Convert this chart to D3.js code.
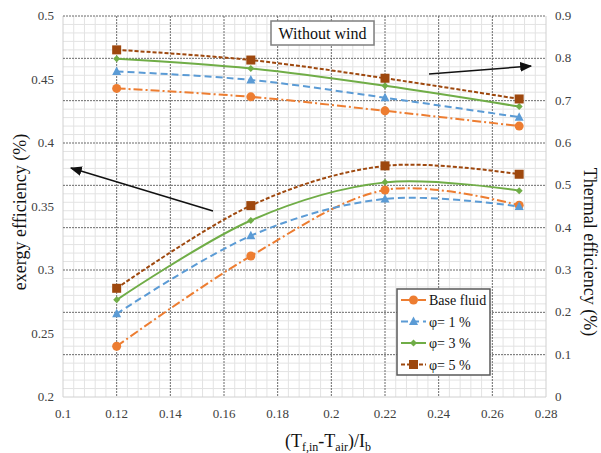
<!DOCTYPE html>
<html lang="en">
<head>
<meta charset="UTF-8">
<title>Exergy and thermal efficiency</title>
<script src="https://d3js.org/d3.v7.min.js"></script>
<style>
  body { margin: 0; background: #fff; }
  svg text { font-family: "Liberation Serif", "Times New Roman", Times, serif; }
  .tick-label { font-size: 13px; fill: #404040; }
</style>
</head>
<body>
<svg id="chart" width="601" height="453"></svg>
<script>
// x values, (Tf,in - Tair)/Ib
const xVals = [0.12, 0.17, 0.22, 0.27];

// thermal efficiency (right axis)
const thermalBase = [0.729, 0.709, 0.676, 0.640];
const thermal1 = [0.769, 0.749, 0.707, 0.661];
const thermal3 = [0.799, 0.776, 0.735, 0.686];
const thermal5 = [0.820, 0.796, 0.753, 0.704];

// exergy efficiency (left axis)
const exergyBase = [0.240, 0.311, 0.363, 0.351];
const exergy1 = [0.2655, 0.327, 0.356, 0.350];
const exergy3 = [0.2765, 0.339, 0.369, 0.3625];
const exergy5 = [0.2856, 0.3507, 0.382, 0.3754];

const seriesNames = ["Base fluid", "φ= 1 %", "φ= 3 %", "φ= 5 %"];
const xTicks = [0.1, 0.12, 0.14, 0.16, 0.18, 0.2, 0.22, 0.24, 0.26, 0.28];
const leftTicks = [0.2, 0.25, 0.3, 0.35, 0.4, 0.45, 0.5];
const rightTicks = [0, 0.1, 0.2, 0.3, 0.4, 0.5, 0.6, 0.7, 0.8, 0.9];

const styles = [
  { color: "#ED7D31", dash: "9,3,2,3", marker: "circle" },
  { color: "#5B9BD5", dash: "7,4", marker: "triangle" },
  { color: "#70AD47", dash: null, marker: "diamond" },
  { color: "#9E480E", dash: "4,2", marker: "square" }
];

const svg = d3.select("#chart");
const pL = 63, pR = 546, pT = 16, pB = 397;

const x = d3.scaleLinear().domain([0.1, 0.28]).range([pL, pR]);
const yL = d3.scaleLinear().domain([0.2, 0.5]).range([pB, pT]);
const yR = d3.scaleLinear().domain([0, 0.9]).range([pB, pT]);

// minor grid
const grid = svg.append("g");
for (let i = 0; i < xTicks.length - 1; i++) {
  for (let k = 1; k < 5; k++) {
    const xv = x(xTicks[i] + k * 0.004);
    grid.append("line").attr("x1", xv).attr("x2", xv).attr("y1", pT).attr("y2", pB)
      .attr("stroke", "#e3e3e3").attr("stroke-width", 1);
  }
}
for (let i = 0; i < rightTicks.length - 1; i++) {
  for (let k = 1; k < 5; k++) {
    const yv = yR(rightTicks[i] + k * 0.02);
    grid.append("line").attr("x1", pL).attr("x2", pR).attr("y1", yv).attr("y2", yv)
      .attr("stroke", "#e3e3e3").attr("stroke-width", 1);
  }
}

// axis lines
grid.append("line").attr("x1", pL).attr("x2", pL).attr("y1", pT).attr("y2", pB).attr("stroke", "#d0d0d0");
grid.append("line").attr("x1", pR).attr("x2", pR).attr("y1", pT).attr("y2", pB).attr("stroke", "#d0d0d0");
grid.append("line").attr("x1", pL).attr("x2", pR).attr("y1", pB).attr("y2", pB).attr("stroke", "#d0d0d0");

// major grid
xTicks.slice(1, -1).forEach(t => {
  grid.append("line").attr("x1", x(t)).attr("x2", x(t)).attr("y1", pT).attr("y2", pB)
    .attr("stroke", "#6b6b6b").attr("stroke-width", 1).attr("stroke-dasharray", "2,1");
});
rightTicks.slice(1).forEach(t => {
  grid.append("line").attr("x1", pL).attr("x2", pR).attr("y1", yR(t)).attr("y2", yR(t))
    .attr("stroke", "#6b6b6b").attr("stroke-width", 1).attr("stroke-dasharray", "2,1");
});

// tick labels
xTicks.forEach(t => {
  svg.append("text").attr("class", "tick-label").attr("x", x(t)).attr("y", 418)
    .attr("text-anchor", "middle").text(+t.toFixed(2));
});
leftTicks.forEach(t => {
  svg.append("text").attr("class", "tick-label").attr("x", 54).attr("y", yL(t) + 4)
    .attr("text-anchor", "end").text(+t.toFixed(2));
});
rightTicks.forEach(t => {
  svg.append("text").attr("class", "tick-label").attr("x", 555).attr("y", yR(t) + 4)
    .attr("text-anchor", "start").text(+t.toFixed(1));
});

// axis titles
svg.append("text").attr("transform", "translate(26,212) rotate(-90)")
  .attr("text-anchor", "middle").attr("font-size", 18).attr("fill", "#111")
  .text("exergy efficiency (%)");
svg.append("text").attr("transform", "translate(584,252) rotate(90)")
  .attr("text-anchor", "middle").attr("font-size", 18).attr("fill", "#111")
  .text("Thermal efficiency (%)");
const xt = svg.append("text").attr("x", 328).attr("y", 447).attr("text-anchor", "middle")
  .attr("font-size", 18).attr("fill", "#111");
xt.append("tspan").text("(T");
xt.append("tspan").attr("font-size", 12).attr("dy", 4).text("f,in");
xt.append("tspan").attr("dy", -4).text("-T");
xt.append("tspan").attr("font-size", 12).attr("dy", 4).text("air");
xt.append("tspan").attr("dy", -4).text(")/I");
xt.append("tspan").attr("font-size", 12).attr("dy", 4).text("b");

// series
const line = d3.line().curve(d3.curveCatmullRom.alpha(0));

function drawMarker(g, type, cx, cy, color) {
  if (type === "circle") {
    g.append("circle").attr("cx", cx).attr("cy", cy).attr("r", 4.5).attr("fill", color);
  } else if (type === "triangle") {
    g.append("path").attr("d", `M${cx},${cy - 5}L${cx + 4.5},${cy + 3.5}L${cx - 4.5},${cy + 3.5}Z`).attr("fill", color);
  } else if (type === "diamond") {
    g.append("path").attr("d", `M${cx},${cy - 3.5}L${cx + 3.5},${cy}L${cx},${cy + 3.5}L${cx - 3.5},${cy}Z`).attr("fill", color);
  } else {
    g.append("rect").attr("x", cx - 4.5).attr("y", cy - 4.5).attr("width", 9).attr("height", 9).attr("fill", color);
  }
}

function drawSeries(vals, scale, st) {
  const pts = xVals.map((v, i) => [x(v), scale(vals[i])]);
  const g = svg.append("g");
  g.append("path").attr("d", line(pts)).attr("fill", "none").attr("stroke", st.color)
    .attr("stroke-width", 2).attr("stroke-dasharray", st.dash);
  pts.forEach(p => drawMarker(g, st.marker, p[0], p[1], st.color));
}

const thermal = [thermalBase, thermal1, thermal3, thermal5];
const exergy = [exergyBase, exergy1, exergy3, exergy5];
thermal.forEach((s, i) => drawSeries(s, yR, styles[i]));
exergy.forEach((s, i) => drawSeries(s, yL, styles[i]));

// arrows
const defs = svg.append("defs");
defs.append("marker").attr("id", "ah").attr("viewBox", "0 0 10 10").attr("refX", 9).attr("refY", 5)
  .attr("markerWidth", 8).attr("markerHeight", 8).attr("orient", "auto")
  .append("path").attr("d", "M0,1L10,5L0,9Z").attr("fill", "#111");
svg.append("line").attr("x1", 429).attr("y1", 74).attr("x2", 531).attr("y2", 66)
  .attr("stroke", "#111").attr("stroke-width", 1.5).attr("marker-end", "url(#ah)");
svg.append("line").attr("x1", 213).attr("y1", 211).attr("x2", 71).attr("y2", 168)
  .attr("stroke", "#111").attr("stroke-width", 1.5).attr("marker-end", "url(#ah)");

// "Without wind" box
svg.append("rect").attr("x", 271).attr("y", 21).attr("width", 103).attr("height", 24)
  .attr("fill", "#fff").attr("stroke", "#7f7f7f").attr("stroke-width", 1.5);
svg.append("text").attr("x", 322.5).attr("y", 39).attr("text-anchor", "middle")
  .attr("font-size", 16).attr("fill", "#111").text("Without wind");

// legend
const lg = svg.append("g");
lg.append("rect").attr("x", 397).attr("y", 289).attr("width", 93).attr("height", 86)
  .attr("fill", "#fff").attr("stroke", "#595959").attr("stroke-width", 1.5);
const rowY = [300, 321.5, 343, 364.5];
seriesNames.forEach((name, i) => {
  const st = styles[i];
  lg.append("line").attr("x1", 401).attr("x2", 426).attr("y1", rowY[i]).attr("y2", rowY[i])
    .attr("stroke", st.color).attr("stroke-width", 2).attr("stroke-dasharray", st.dash);
  drawMarker(lg, st.marker, 413.5, rowY[i], st.color);
  lg.append("text").attr("x", 429).attr("y", rowY[i] + 5).attr("font-size", 14)
    .attr("fill", "#111").text(name);
});
</script>
</body>
</html>
